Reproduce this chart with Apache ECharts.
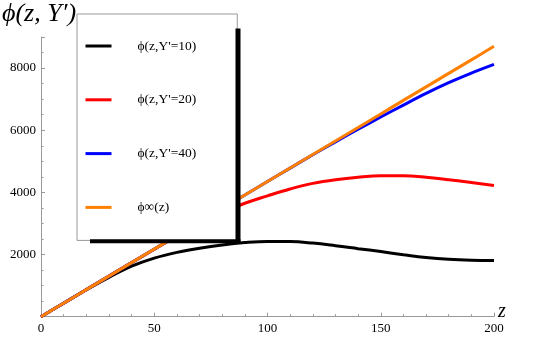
<!DOCTYPE html>
<html>
<head>
<meta charset="utf-8">
<script src="https://cdn.jsdelivr.net/npm/echarts@6/dist/echarts.min.js"></script>
<style>
    html, body { margin: 0; padding: 0; background: #fff; }
    #chart { width: 545px; height: 340px; }
</style>
</head>
<body>
<div id="chart"></div>
<script>
    // z values
    var zs = [0, 10, 20, 30, 40, 50, 60, 70, 80, 90, 100, 110, 120, 130, 140, 150, 160, 170, 180, 190, 200];
    // phi(z, Y') curves
    var phi10 = [0, 435, 865, 1265, 1625, 1885, 2070, 2205, 2310, 2385, 2422, 2418, 2368, 2285, 2190, 2095, 1995, 1905, 1845, 1814, 1805];
    var phi20 = [0, 435, 870, 1305, 1740, 2170, 2590, 2990, 3340, 3650, 3890, 4110, 4290, 4410, 4490, 4535, 4535, 4490, 4410, 4320, 4220];
    var phi40 = [0, 435, 870, 1305, 1740, 2175, 2610, 3045, 3480, 3915, 4350, 4782, 5210, 5625, 6030, 6425, 6810, 7185, 7530, 7840, 8120];
    var phiInf = [0, 435, 870, 1305, 1740, 2175, 2610, 3045, 3480, 3915, 4350, 4785, 5220, 5655, 6090, 6525, 6960, 7395, 7830, 8265, 8700];
    var names = ["\u03d5(z,Y'=10)", "\u03d5(z,Y'=20)", "\u03d5(z,Y'=40)", "\u03d5\u221e(z)"];
    var colors = ["#000000", "#ff0000", "#0000ff", "#ff8000"];
    var xTicks = [0, 50, 100, 150, 200];
    var yTicks = [2000, 4000, 6000, 8000];

    var serif = "Liberation Serif";

    function pairs(vals) {
        var out = [];
        for (var i = 0; i < zs.length; i++) {
            out.push([zs[i], vals[i]]);
        }
        return out;
    }

    var allData = [phi10, phi20, phi40, phiInf];
    var series = [];
    for (var k = 0; k < allData.length; k++) {
        series.push({
            name: names[k],
            type: "line",
            data: pairs(allData[k]),
            smooth: 0.4,
            showSymbol: false,
            color: colors[k],
            lineStyle: { width: 3, color: colors[k], cap: "butt" },
            z: 2 + k
        });
    }

    var chart = echarts.init(document.getElementById("chart"));
    var option = {
        animation: false,
        backgroundColor: "#fff",
        title: {
            text: "\u03d5(z, Y\u2032)",
            left: 2,
            top: 1,
            padding: 0,
            textStyle: { fontFamily: serif, fontStyle: "italic", fontWeight: "normal", fontSize: 26, color: "#000" }
        },
        grid: { left: 41, right: 51, top: 37, bottom: 23.3 },
        legend: {
            data: names,
            orient: "vertical",
            left: 77,
            top: 14,
            padding: [25, 41, 26, 8.5],
            itemGap: 39.8,
            itemWidth: 26,
            itemHeight: 3,
            icon: "rect",
            backgroundColor: "#fff",
            borderColor: "#999",
            borderWidth: 1,
            z: 10,
            textStyle: { fontFamily: serif, fontSize: 13.5, color: "#000", padding: [0, 0, 0, 21] }
        },
        xAxis: {
            type: "value",
            min: 0,
            max: 200,
            interval: 50,
            name: "z",
            nameLocation: "end",
            nameGap: 4,
            nameTextStyle: { fontFamily: serif, fontStyle: "italic", fontSize: 20, color: "#000", verticalAlign: "bottom", padding: [0, 0, -5, 0] },
            axisLine: { lineStyle: { color: "#999", width: 1 } },
            axisTick: { inside: true, length: 4, lineStyle: { color: "#999" } },
            minorTick: { show: true, splitNumber: 5, length: 2.5, lineStyle: { color: "#999" } },
            splitLine: { show: false },
            axisLabel: {
                fontFamily: serif, fontSize: 13, color: "#000", margin: 5,
                formatter: function (v) { return xTicks.indexOf(v) >= 0 ? String(v) : ""; }
            }
        },
        yAxis: {
            type: "value",
            min: 0,
            max: 9000,
            interval: 2000,
            axisLine: { show: true, lineStyle: { color: "#999", width: 1 } },
            axisTick: { show: true, inside: true, length: 4, lineStyle: { color: "#999" } },
            minorTick: { show: true, splitNumber: 4, length: 2.5, lineStyle: { color: "#999" } },
            splitLine: { show: false },
            axisLabel: {
                fontFamily: serif, fontSize: 13, color: "#000", margin: 5,
                formatter: function (v) { return yTicks.indexOf(v) >= 0 ? String(v) : ""; }
            }
        },
        graphic: [
            // legend drop shadow bars
            { type: "rect", z: 100, shape: { x: 235.5, y: 28.5, width: 5, height: 214 }, style: { fill: "#000" } },
            { type: "rect", z: 100, shape: { x: 90, y: 239.3, width: 150.5, height: 4 }, style: { fill: "#000" } }
        ],
        series: series
    };
    chart.setOption(option);
</script>
</body>
</html>
